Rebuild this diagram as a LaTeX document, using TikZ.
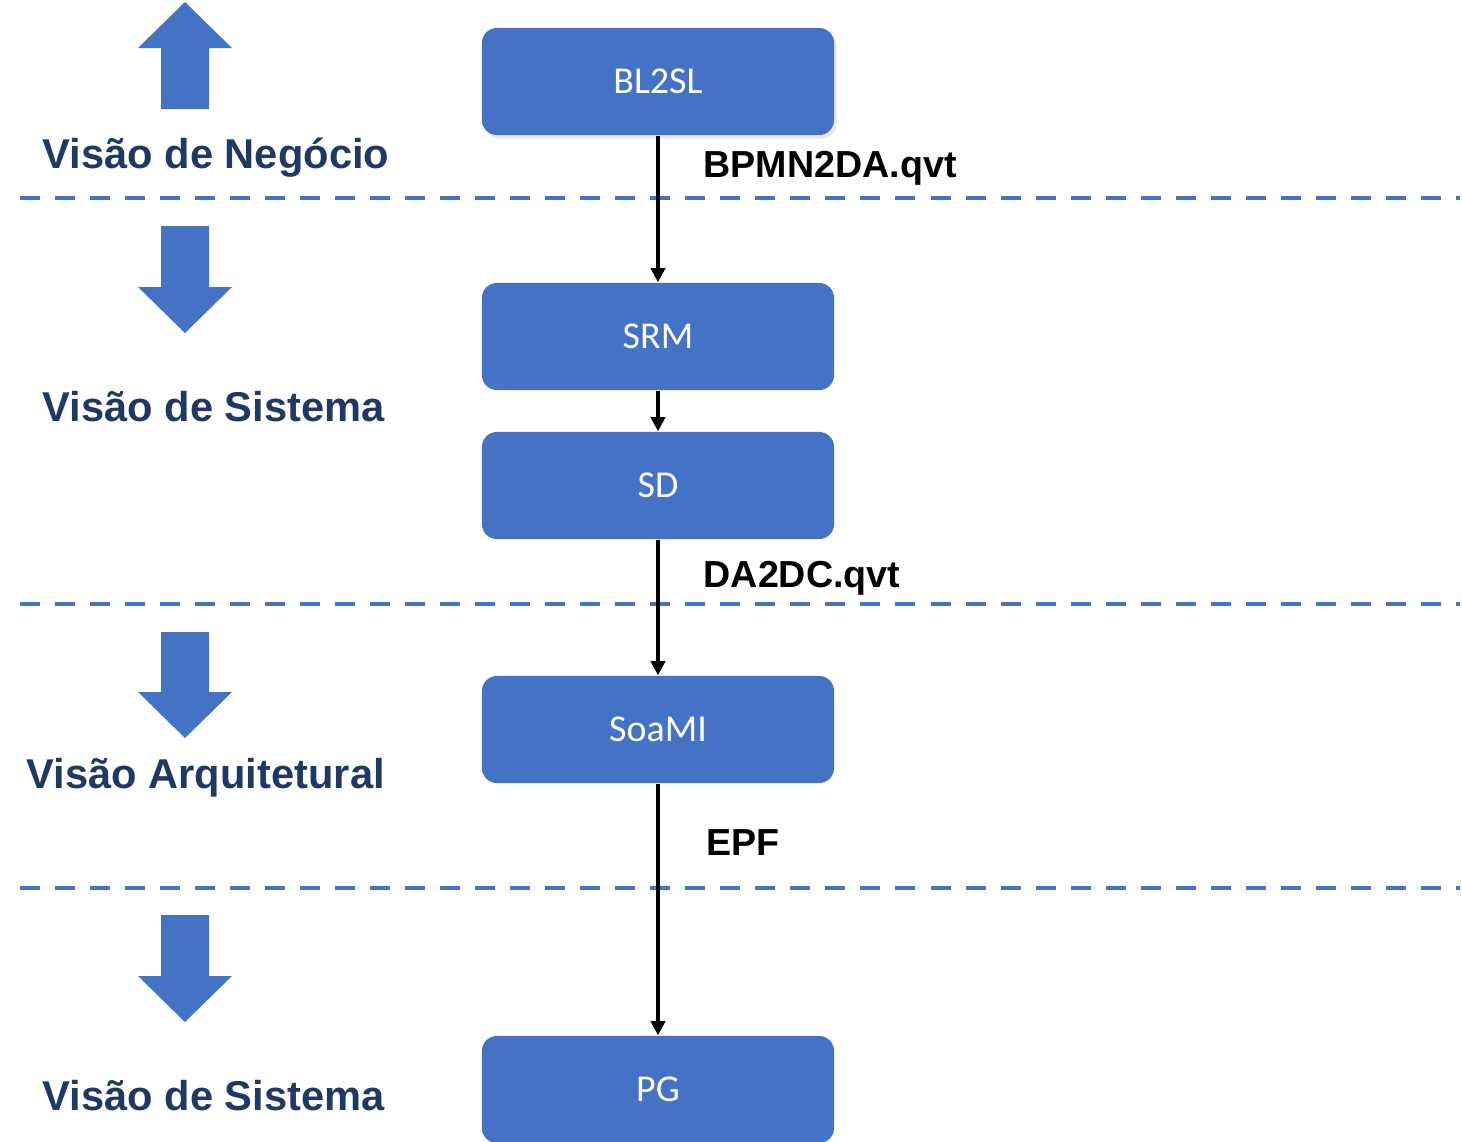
\documentclass[tikz,border=0pt]{standalone}
\usepackage{fontspec}
\setmainfont{Liberation Sans}
\newfontfamily\boxfont{Carlito}
\usetikzlibrary{arrows.meta,shadows}
\definecolor{boxblue}{HTML}{4472C4}
\definecolor{navy}{HTML}{203864}
\tikzset{
  stagebox/.style={fill=boxblue, draw=none, rounded corners=0.15cm, minimum width=3.52cm, minimum height=1.07cm, text=white, font=\boxfont\fontsize{10.8}{12}\selectfont, inner sep=0pt},
  viewlabel/.style={anchor=west, text=navy, font=\bfseries\fontsize{11.85}{13}\selectfont, inner sep=0pt},
  translabel/.style={anchor=west, text=black, font=\bfseries\fontsize{10.7}{12}\selectfont, inner sep=0pt},
  sep/.style={draw=boxblue, line width=1.15pt, dash pattern=on 0.2cm off 0.15cm},
  flow/.style={draw=black, line width=1.1pt, -{Triangle[length=4pt,width=4pt]}},
  blockarrow/.style={fill=boxblue, draw=none}
}
\begin{document}
\begin{tikzpicture}[x=0.01cm,y=-0.01cm]
\useasboundingbox (0,0) rectangle (1462,1141);
\clip (0,0) rectangle (1462,1141);
% separators
\draw[sep] (20,198) -- (1460,198);
\draw[sep] (20,604) -- (1460,604);
\draw[sep] (20,888) -- (1460,888);
% block arrows
\fill[blockarrow] (161,109) -- (161,48) -- (138,48) -- (185,2) -- (232,48) -- (209,48) -- (209,109) -- cycle;
\fill[blockarrow] (161,226) -- (161,287) -- (138,287) -- (185,333) -- (232,287) -- (209,287) -- (209,226) -- cycle;
\fill[blockarrow] (161,632) -- (161,692) -- (138,692) -- (185,738) -- (232,692) -- (209,692) -- (209,632) -- cycle;
\fill[blockarrow] (161,915) -- (161,976) -- (138,976) -- (185,1022) -- (232,976) -- (209,976) -- (209,915) -- cycle;
% view labels
\node[viewlabel] (vn) at (42,158) {Visão de Negócio};
\node[viewlabel] (vs1) at (42,407) {Visão de Sistema};
\node[viewlabel] (va) at (26,778) {Visão Arquitetural};
\node[viewlabel] (vs2) at (42,1096) {Visão de Sistema};
% boxes
\node[stagebox, drop shadow={opacity=0.18, shadow xshift=0.025cm, shadow yshift=-0.035cm}] (bl) at (658,81.5) {BL2SL};
\node[stagebox] (srm) at (658,336.5) {SRM};
\node[stagebox] (sd) at (658,485.5) {SD};
\node[stagebox] (soa) at (658,729.5) {SoaMI};
\node[stagebox] (pg) at (658,1089.5) {PG};
% connectors
\draw[flow] (bl) -- (srm);
\draw[flow] (srm) -- (sd);
\draw[flow] (sd) -- (soa);
\draw[flow] (soa) -- (pg);
% transformation labels
\node[translabel] (t1) at (703,168) {BPMN2DA.qvt};
\node[translabel] (t2) at (703,578) {DA2DC.qvt};
\node[translabel] (t3) at (706,843) {EPF};
\end{tikzpicture}
\end{document}
